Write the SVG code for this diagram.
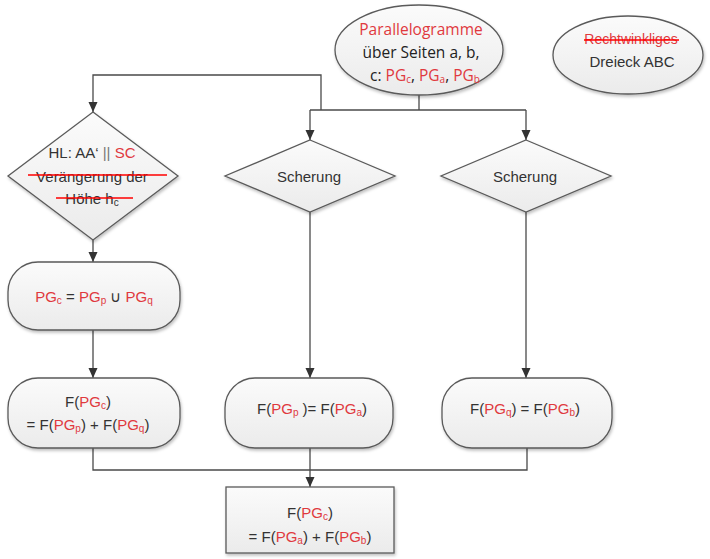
<svg xmlns="http://www.w3.org/2000/svg" width="710" height="559" viewBox="0 0 710 559">
<style>
.shape{fill:url(#g);stroke:#5a5a5a;stroke-width:1.3;filter:url(#sh)}
.t{font-family:"Liberation Sans",Arial,sans-serif;font-size:15px;fill:#333;text-anchor:middle}
.c{font-family:"Open Sans","Noto Sans",sans-serif;font-size:15.5px;fill:#222;text-anchor:middle}
.r{fill:#e0393e}
.s{font-size:10px}
.strike{stroke:#ff0000;stroke-width:1.6}
.conn path{fill:none;stroke:#4a4a4a;stroke-width:1.3}
</style>
<defs>
<linearGradient id="g" x1="0" y1="0" x2="0" y2="1">
<stop offset="0" stop-color="#fbfbfb"/>
<stop offset="1" stop-color="#ebebeb"/>
</linearGradient>
<filter id="sh" x="-10%" y="-10%" width="120%" height="130%">
<feDropShadow dx="1" dy="2" stdDeviation="1.5" flood-color="#000" flood-opacity="0.25"/>
</filter>
<marker id="a" markerUnits="userSpaceOnUse" markerWidth="10" markerHeight="10" refX="10" refY="5" orient="auto">
<path d="M0,0.5 L10,5 L0,9.5 z" fill="#333"/>
</marker>
</defs>

<g class="conn">
<path d="M419,95 V110"/>
<path d="M310,110 H526"/>
<path d="M310,110 V140" marker-end="url(#a)"/>
<path d="M526,110 V140" marker-end="url(#a)"/>
<path d="M321,110 V75 H93 V112" marker-end="url(#a)"/>
<path d="M93,240 V262" marker-end="url(#a)"/>
<path d="M93,330 V378" marker-end="url(#a)"/>
<path d="M310,212 V378" marker-end="url(#a)"/>
<path d="M526,212 V378" marker-end="url(#a)"/>
<path d="M93,448 V470 H527 V448"/>
<path d="M310,448 V487" marker-end="url(#a)"/>
</g>

<g id="parallelogramme">
<ellipse class="shape" cx="419" cy="50" rx="84" ry="45"/>
<text class="c" x="421" y="35"><tspan class="r">Parallelogramme</tspan></text>
<text class="c" x="421" y="58">über Seiten a, b,</text>
<text class="c" x="425" y="81">c: <tspan class="r">PG<tspan class="s" dy="2">c</tspan></tspan><tspan dy="-2">, </tspan><tspan class="r">PG<tspan class="s" dy="2">a</tspan></tspan><tspan dy="-2">, </tspan><tspan class="r">PG<tspan class="s" dy="2">b</tspan></tspan></text>
</g>

<g id="dreieck">
<ellipse class="shape" cx="628" cy="55" rx="75" ry="39"/>
<text class="t" x="631" y="44" style="font-size:14px"><tspan class="r">Rechtwinkliges</tspan></text>
<line class="strike" x1="584" y1="40" x2="679" y2="40"/>
<text class="t" x="632" y="67">Dreieck ABC</text>
</g>

<g id="hl">
<polygon class="shape" points="93,112 178,176 93,240 8,176"/>
<text class="t" x="92" y="158">HL: AA‘ <tspan fill="#777">||</tspan> <tspan class="r">SC</tspan></text>
<text class="t" x="92" y="182">Verängerung der</text>
<line class="strike" x1="28" y1="175" x2="167" y2="175"/>
<text class="t" x="92" y="204">Höhe h<tspan class="s" dy="2">c</tspan></text>
<line class="strike" x1="56" y1="198" x2="133" y2="198"/>
</g>

<g id="scherung1">
<polygon class="shape" points="310,140 395,176 310,212 225,176"/>
<text class="t" x="309" y="182">Scherung</text>
</g>

<g id="scherung2">
<polygon class="shape" points="526,140 611,176 526,212 441,176"/>
<text class="t" x="525" y="182">Scherung</text>
</g>

<g id="pgc">
<rect class="shape" x="8" y="262" width="172" height="68" rx="30" ry="30"/>
<text class="t" x="94" y="302"><tspan class="r">PG<tspan class="s" dy="2">c</tspan></tspan><tspan dy="-2"> = </tspan><tspan class="r">PG<tspan class="s" dy="2">p</tspan></tspan><tspan dy="-2"> ∪ </tspan><tspan class="r">PG<tspan class="s" dy="2">q</tspan></tspan></text>
</g>

<g id="fpgc">
<rect class="shape" x="8" y="378" width="172" height="70" rx="30" ry="30"/>
<text class="t" x="88" y="407">F(<tspan class="r">PG<tspan class="s" dy="2">c</tspan></tspan><tspan dy="-2">)</tspan></text>
<text class="t" x="88" y="430">= F(<tspan class="r">PG<tspan class="s" dy="2">p</tspan></tspan><tspan dy="-2">) + F(</tspan><tspan class="r">PG<tspan class="s" dy="2">q</tspan></tspan><tspan dy="-2">)</tspan></text>
</g>

<g id="fpgp">
<rect class="shape" x="225" y="378" width="168" height="70" rx="30" ry="30"/>
<text class="t" x="312" y="414">F(<tspan class="r">PG<tspan class="s" dy="2">p</tspan></tspan><tspan dy="-2"> )= F(</tspan><tspan class="r">PG<tspan class="s" dy="2">a</tspan></tspan><tspan dy="-2">)</tspan></text>
</g>

<g id="fpgq">
<rect class="shape" x="442" y="378" width="170" height="70" rx="30" ry="30"/>
<text class="t" x="525" y="414">F(<tspan class="r">PG<tspan class="s" dy="2">q</tspan></tspan><tspan dy="-2">) = F(</tspan><tspan class="r">PG<tspan class="s" dy="2">b</tspan></tspan><tspan dy="-2">)</tspan></text>
</g>

<g id="result">
<rect class="shape" x="226" y="487" width="168" height="66"/>
<text class="t" x="310" y="518">F(<tspan class="r">PG<tspan class="s" dy="2">c</tspan></tspan><tspan dy="-2">)</tspan></text>
<text class="t" x="310" y="542">= F(<tspan class="r">PG<tspan class="s" dy="2">a</tspan></tspan><tspan dy="-2">) + F(</tspan><tspan class="r">PG<tspan class="s" dy="2">b</tspan></tspan><tspan dy="-2">)</tspan></text>
</g>
</svg>
